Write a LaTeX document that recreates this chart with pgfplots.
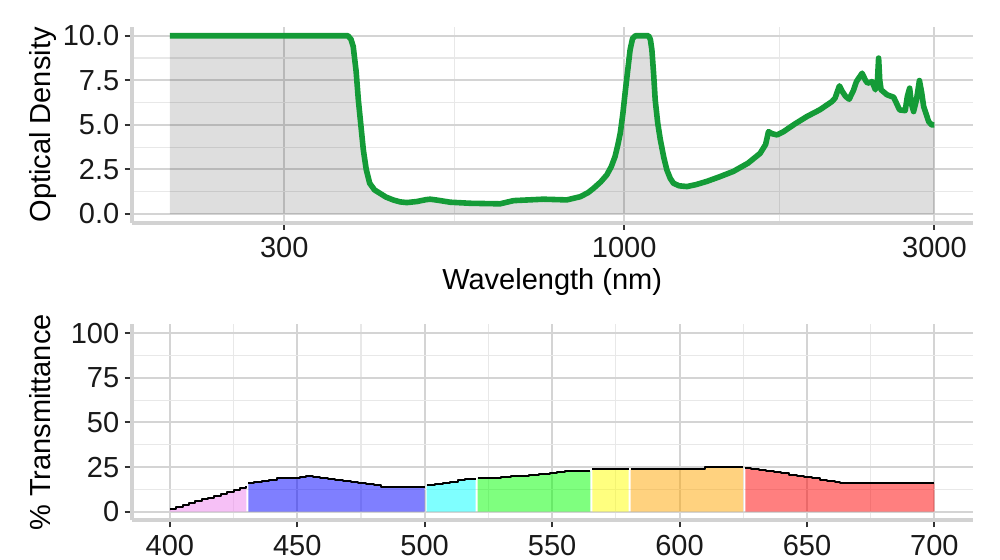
\documentclass[border=0pt]{standalone}
\usepackage{fontspec}
\setmainfont{Liberation Sans}
\usepackage{pgfplots}
\usepackage{pgfplotstable}
\pgfplotsset{compat=1.18}

\definecolor{odgreen}{RGB}{20,155,55}
\definecolor{cviolet}{RGB}{238,130,238}
\definecolor{cblue}{RGB}{0,0,255}
\definecolor{ccyan}{RGB}{0,255,255}
\definecolor{cgreen}{RGB}{0,255,0}
\definecolor{cyellow}{RGB}{255,255,0}
\definecolor{corange}{RGB}{255,165,0}
\definecolor{cred}{RGB}{255,0,0}
\definecolor{gridmaj}{RGB}{212,212,212}
\definecolor{gridmin}{RGB}{232,232,232}
\definecolor{axgray}{RGB}{210,210,210}
\definecolor{tickgray}{RGB}{51,51,51}

\pgfplotstableread{
x y
200 10
376 10
380 9.8
383 9.4
387 8.0
390 6.4
394 4.8
397 3.6
401 2.5
406 1.72
413 1.35
421 1.16
430 0.95
441 0.79
452 0.68
463 0.64
480 0.70
495 0.80
503 0.83
515 0.78
540 0.66
580 0.60
644 0.57
676 0.75
751 0.83
816 0.79
856 0.97
880 1.2
897 1.44
920 1.8
940 2.19
955 2.65
968 3.22
978 3.9
986 4.53
995 5.6
1003 6.78
1012 8.0
1021 9.21
1030 9.85
1040 10
1090 10
1097 9.8
1103 9.2
1110 7.8
1116 6.4
1126 5.1
1136 4.2
1150 3.2
1163 2.47
1177 2.0
1191 1.72
1215 1.58
1249 1.54
1290 1.65
1340 1.83
1400 2.08
1472 2.39
1550 2.85
1618 3.40
1650 3.9
1667 4.62
1690 4.5
1718 4.44
1758 4.62
1830 5.05
1910 5.47
2000 5.85
2087 6.31
2110 6.5
2124 6.8
2143 7.19
2163 6.9
2190 6.6
2218 6.44
2250 6.9
2276 7.43
2322 7.90
2350 7.5
2368 7.34
2406 7.43
2434 6.97
2452 7.5
2462 8.75
2472 7.5
2484 6.97
2536 6.69
2597 6.55
2652 5.84
2705 5.8
2726 6.6
2748 7.06
2765 6.2
2787 5.75
2815 6.4
2845 7.49
2868 6.8
2888 6.03
2939 5.19
2970 5.0
3000 5.0
}\odtable

\pgfplotstableread{
x y
400 1.5
402.5 2.6
405 3.6
407.5 4.7
410 5.8
412.5 6.8
415 7.9
417.5 9.0
420 10.0
422.5 11.1
425 12.2
427.5 13.3
430 14.4
}\tviolet
\pgfplotstableread{
x y
430.8 15.9
433 16.6
436 17.3
439 18.0
442 18.6
446 19.0
451 19.6
453.5 20.1
456 19.6
459 19.0
462 18.4
465 17.8
468 17.1
471 16.5
474 15.9
477 15.3
480 14.7
483 14.0
500 14.0
}\tblue
\pgfplotstableread{
x y
500.8 14.9
504 15.5
507 16.2
510 16.8
513 17.5
516 18.3
520 18.3
}\tcyan
\pgfplotstableread{
x y
520.8 18.7
530 19.2
534 19.7
541 20.4
545 21.0
549 21.6
552 22.2
555 22.9
565 22.9
}\tgreen
\pgfplotstableread{
x y
565.8 23.9
580 23.9
}\tyellow
\pgfplotstableread{
x y
580.8 23.9
610 25.3
625 25.3
}\torange
\pgfplotstableread{
x y
625.8 24.3
628 24.0
631 23.4
634 22.8
637 22.1
640 21.4
643 20.8
646 20.1
649 19.4
652 18.7
655 18.0
658 17.3
661 16.6
663 15.9
700 15.9
}\tred

\pgfplotsset{
  myaxis/.style={
    scale only axis, width=420.5pt, height=98pt,
    axis x line*=bottom, axis y line*=left,
    axis line style={-, draw=axgray, line width=2pt},
    tick align=outside, tick pos=left,
    major tick length=3.5pt, minor tick length=0pt,
    tick style={draw=tickgray, line width=1pt},
    grid=both,
    major grid style={draw=gridmaj, line width=1pt},
    minor grid style={draw=gridmin, line width=0.6pt},
    tick label style={font=\fontsize{14.5}{17}\selectfont, text=black!90},
    label style={font=\fontsize{14.5}{17}\selectfont},
    xticklabel style={inner sep=0pt, anchor=north, yshift=-3.5pt},
    yticklabel style={inner sep=0pt, anchor=east, xshift=-2.5pt},
    ylabel style={at={(axis description cs:-0.097,0.5)}, anchor=base, inner sep=0pt},
    /pgf/number format/assume math mode=true,
  },
  regfill/.style={draw=none, fill=#1, fill opacity=0.5, const plot},
  regline/.style={black, line width=1pt, line join=round, const plot},
}

\begin{document}
\begin{tikzpicture}
\path[use as bounding box] (0,0) rectangle (500pt,280pt);
\begin{axis}[myaxis, at={(65.8pt,168.55pt)}, anchor=south west,
  xmode=log, xmin=174.7, xmax=3435, ymin=-0.5, ymax=10.5,
  xtick={300,1000,3000}, xticklabels={300,1000,3000},
  minor xtick={547.7,1732},
  ytick={0,2.5,5,7.5,10}, yticklabels={0.0,2.5,5.0,7.5,10.0},
  minor ytick={1.25,3.75,6.25,8.75},
  xlabel={Wavelength (nm)},
  xlabel style={at={(axis description cs:0.5,-0.342)}, anchor=base, inner sep=0pt},
  ylabel={Optical Density}]
\addplot[draw=none, fill=black, fill opacity=0.13] table {\odtable} \closedcycle;
\addplot[odgreen, line width=2.8pt, line join=round] table {\odtable};
\end{axis}
\begin{axis}[myaxis, at={(65.8pt,19.75pt)}, anchor=south west,
  xmin=385, xmax=715, ymin=-5, ymax=105,
  xtick={400,450,500,550,600,650,700},
  xticklabels={400,450,500,550,600,650,700},
  minor xtick={425,475,525,575,625,675},
  ytick={0,25,50,75,100}, yticklabels={0,25,50,75,100},
  minor ytick={12.5,37.5,62.5,87.5},
  ylabel={\% Transmittance}]
\addplot[regfill=cviolet] table {\tviolet} \closedcycle;
\addplot[regfill=cblue] table {\tblue} \closedcycle;
\addplot[regfill=ccyan] table {\tcyan} \closedcycle;
\addplot[regfill=cgreen] table {\tgreen} \closedcycle;
\addplot[regfill=cyellow] table {\tyellow} \closedcycle;
\addplot[regfill=corange] table {\torange} \closedcycle;
\addplot[regfill=cred] table {\tred} \closedcycle;
\addplot[regline] table {\tviolet};
\addplot[regline] table {\tblue};
\addplot[regline] table {\tcyan};
\addplot[regline] table {\tgreen};
\addplot[regline] table {\tyellow};
\addplot[regline] table {\torange};
\addplot[regline] table {\tred};
\end{axis}
\end{tikzpicture}
\end{document}
